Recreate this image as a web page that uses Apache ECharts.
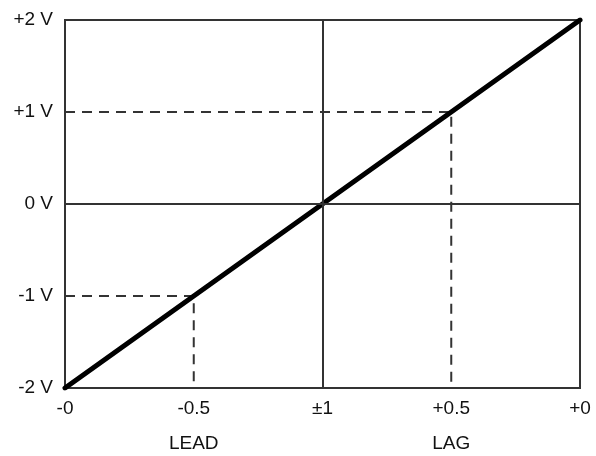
<!DOCTYPE html>
<html>
<head>
<meta charset="utf-8">
<script src="https://cdn.jsdelivr.net/npm/echarts@6/dist/echarts.min.js"></script>
<style>
html, body { margin: 0; padding: 0; background: #fff; }
#chart { width: 596px; height: 456px; }
</style>
</head>
<body>
<div id="chart"></div>
<script>
var xTicks = [-1, -0.5, 0, 0.5, 1];
var xLabels = ['-0', '-0.5', '\u00b11', '+0.5', '+0'];
var xSubLabels = ['', 'LEAD', '', 'LAG', ''];
var yTicks = [-2, -1, 0, 1, 2];
var yLabels = ['-2 V', '-1 V', '0 V', '+1 V', '+2 V'];

// transfer curve
var transfer = [[-1, -2], [0, 0], [1, 2]];
// dashed guides
var leadGuide = [[-1, -1], [-0.5, -1], [-0.5, -2]];
var lagGuide = [[-1, 1], [0.5, 1], [0.5, -2]];

var dom = document.getElementById('chart');
var myChart = echarts.init(dom);

var font = 'Liberation Sans, Arial, sans-serif';

option = {
    backgroundColor: '#fff',
    animation: false,
    grid: {
        left: 65, right: 16, top: 20, bottom: 68,
        show: true,
        borderColor: '#333',
        borderWidth: 2
    },
    xAxis: {
        type: 'value',
        min: -1, max: 1, interval: 0.5,
        axisLine: { show: false },
        axisTick: { show: false },
        splitLine: { show: false },
        axisLabel: {
            margin: 12,
            fontFamily: font,
            fontSize: 19,
            lineHeight: 17.5,
            color: '#111',
            showMaxLabel: true,
            showMinLabel: true,
            formatter: function (v) {
                var i = xTicks.indexOf(Math.round(v * 2) / 2);
                if (i < 0) return '';
                return xSubLabels[i] ? xLabels[i] + '\n\n' + xSubLabels[i] : xLabels[i];
            }
        }
    },
    yAxis: {
        type: 'value',
        min: -2, max: 2, interval: 1,
        axisLine: { show: false },
        axisTick: { show: false },
        splitLine: { show: false },
        axisLabel: {
            margin: 12,
            fontFamily: font,
            fontSize: 19,
            color: '#111',
            formatter: function (v) {
                var i = yTicks.indexOf(Math.round(v));
                return i < 0 ? '' : yLabels[i];
            }
        }
    },
    series: [
        {
            type: 'line',
            data: leadGuide,
            symbol: 'none',
            silent: true,
            lineStyle: { color: '#333', width: 2, type: [10, 7] },
            z: 2
        },
        {
            type: 'line',
            data: lagGuide,
            symbol: 'none',
            silent: true,
            lineStyle: { color: '#333', width: 2, type: [10, 7] },
            z: 2
        },
        {
            type: 'line',
            data: transfer,
            symbol: 'none',
            lineStyle: { color: '#000', width: 5, cap: 'round' },
            markLine: {
                silent: true,
                symbol: 'none',
                label: { show: false },
                lineStyle: { color: '#333', width: 2, type: 'solid' },
                data: [{ xAxis: 0 }, { yAxis: 0 }]
            },
            z: 3
        }
    ]
};

if (option && typeof option === "object") {
    myChart.setOption(option, true);
}
</script>
</body>
</html>
